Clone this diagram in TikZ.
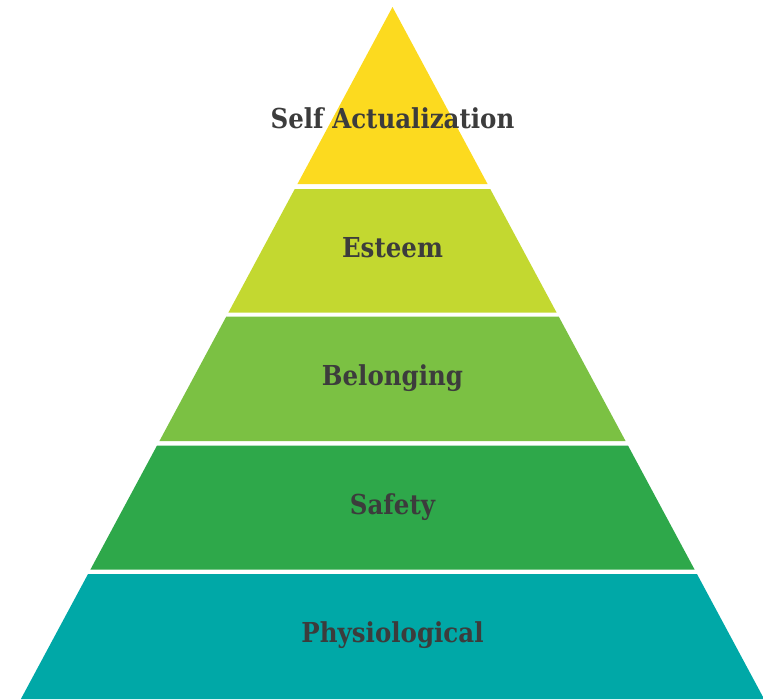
\documentclass[tikz,border=0pt]{standalone}
\usepackage{graphicx}
\usepackage{fontspec}
\newfontfamily\labelfont{DejaVu Serif}
\usetikzlibrary{calc}
\definecolor{tierA}{HTML}{FCDA1F}
\definecolor{tierB}{HTML}{C3D830}
\definecolor{tierC}{HTML}{7BC143}
\definecolor{tierD}{HTML}{2EA84A}
\definecolor{tierE}{HTML}{00A8A7}
\definecolor{labelgray}{HTML}{3C3C3C}
\newcommand\tiertext[1]{\scalebox{1}[1.12]{#1}}
\begin{document}
\begin{tikzpicture}[x=1pt,y=-1pt,
  tierlabel/.style={text=labelgray,font=\labelfont\bfseries\fontsize{24.5}{27}\selectfont,inner sep=0pt}]
\useasboundingbox (0,0) rectangle (763,699);
\clip (0,0) rectangle (763,699);
% pyramid outline: apex and base corners
\coordinate (apex) at (392.5,7);
\coordinate (bl) at (20.9,699);
\coordinate (br) at (764.1,699);
% a band between two fractions of the height
\newcommand\tierband[3]{%
  \fill[#3] ($(apex)!#1!(bl)$) -- ($(apex)!#2!(bl)$) -- ($(apex)!#2!(br)$) -- ($(apex)!#1!(br)$) -- cycle;}
\tierband{0}{0.25578}{tierA}
\tierband{0.26301}{0.44147}{tierB}
\tierband{0.44725}{0.62717}{tierC}
\tierband{0.63367}{0.81286}{tierD}
\tierband{0.81936}{1}{tierE}
\node[tierlabel] (self) at (392.5,118) {\tiertext{Self Actualization}};
\node[tierlabel] (esteem) at (392.5,248) {\tiertext{Esteem}};
\node[tierlabel] (belong) at (392.5,378) {\tiertext{Belonging}};
\node[tierlabel] (safety) at (392.5,507) {\tiertext{Safety}};
\node[tierlabel] (phys) at (392.5,635) {\tiertext{Physiological}};
\end{tikzpicture}
\end{document}
